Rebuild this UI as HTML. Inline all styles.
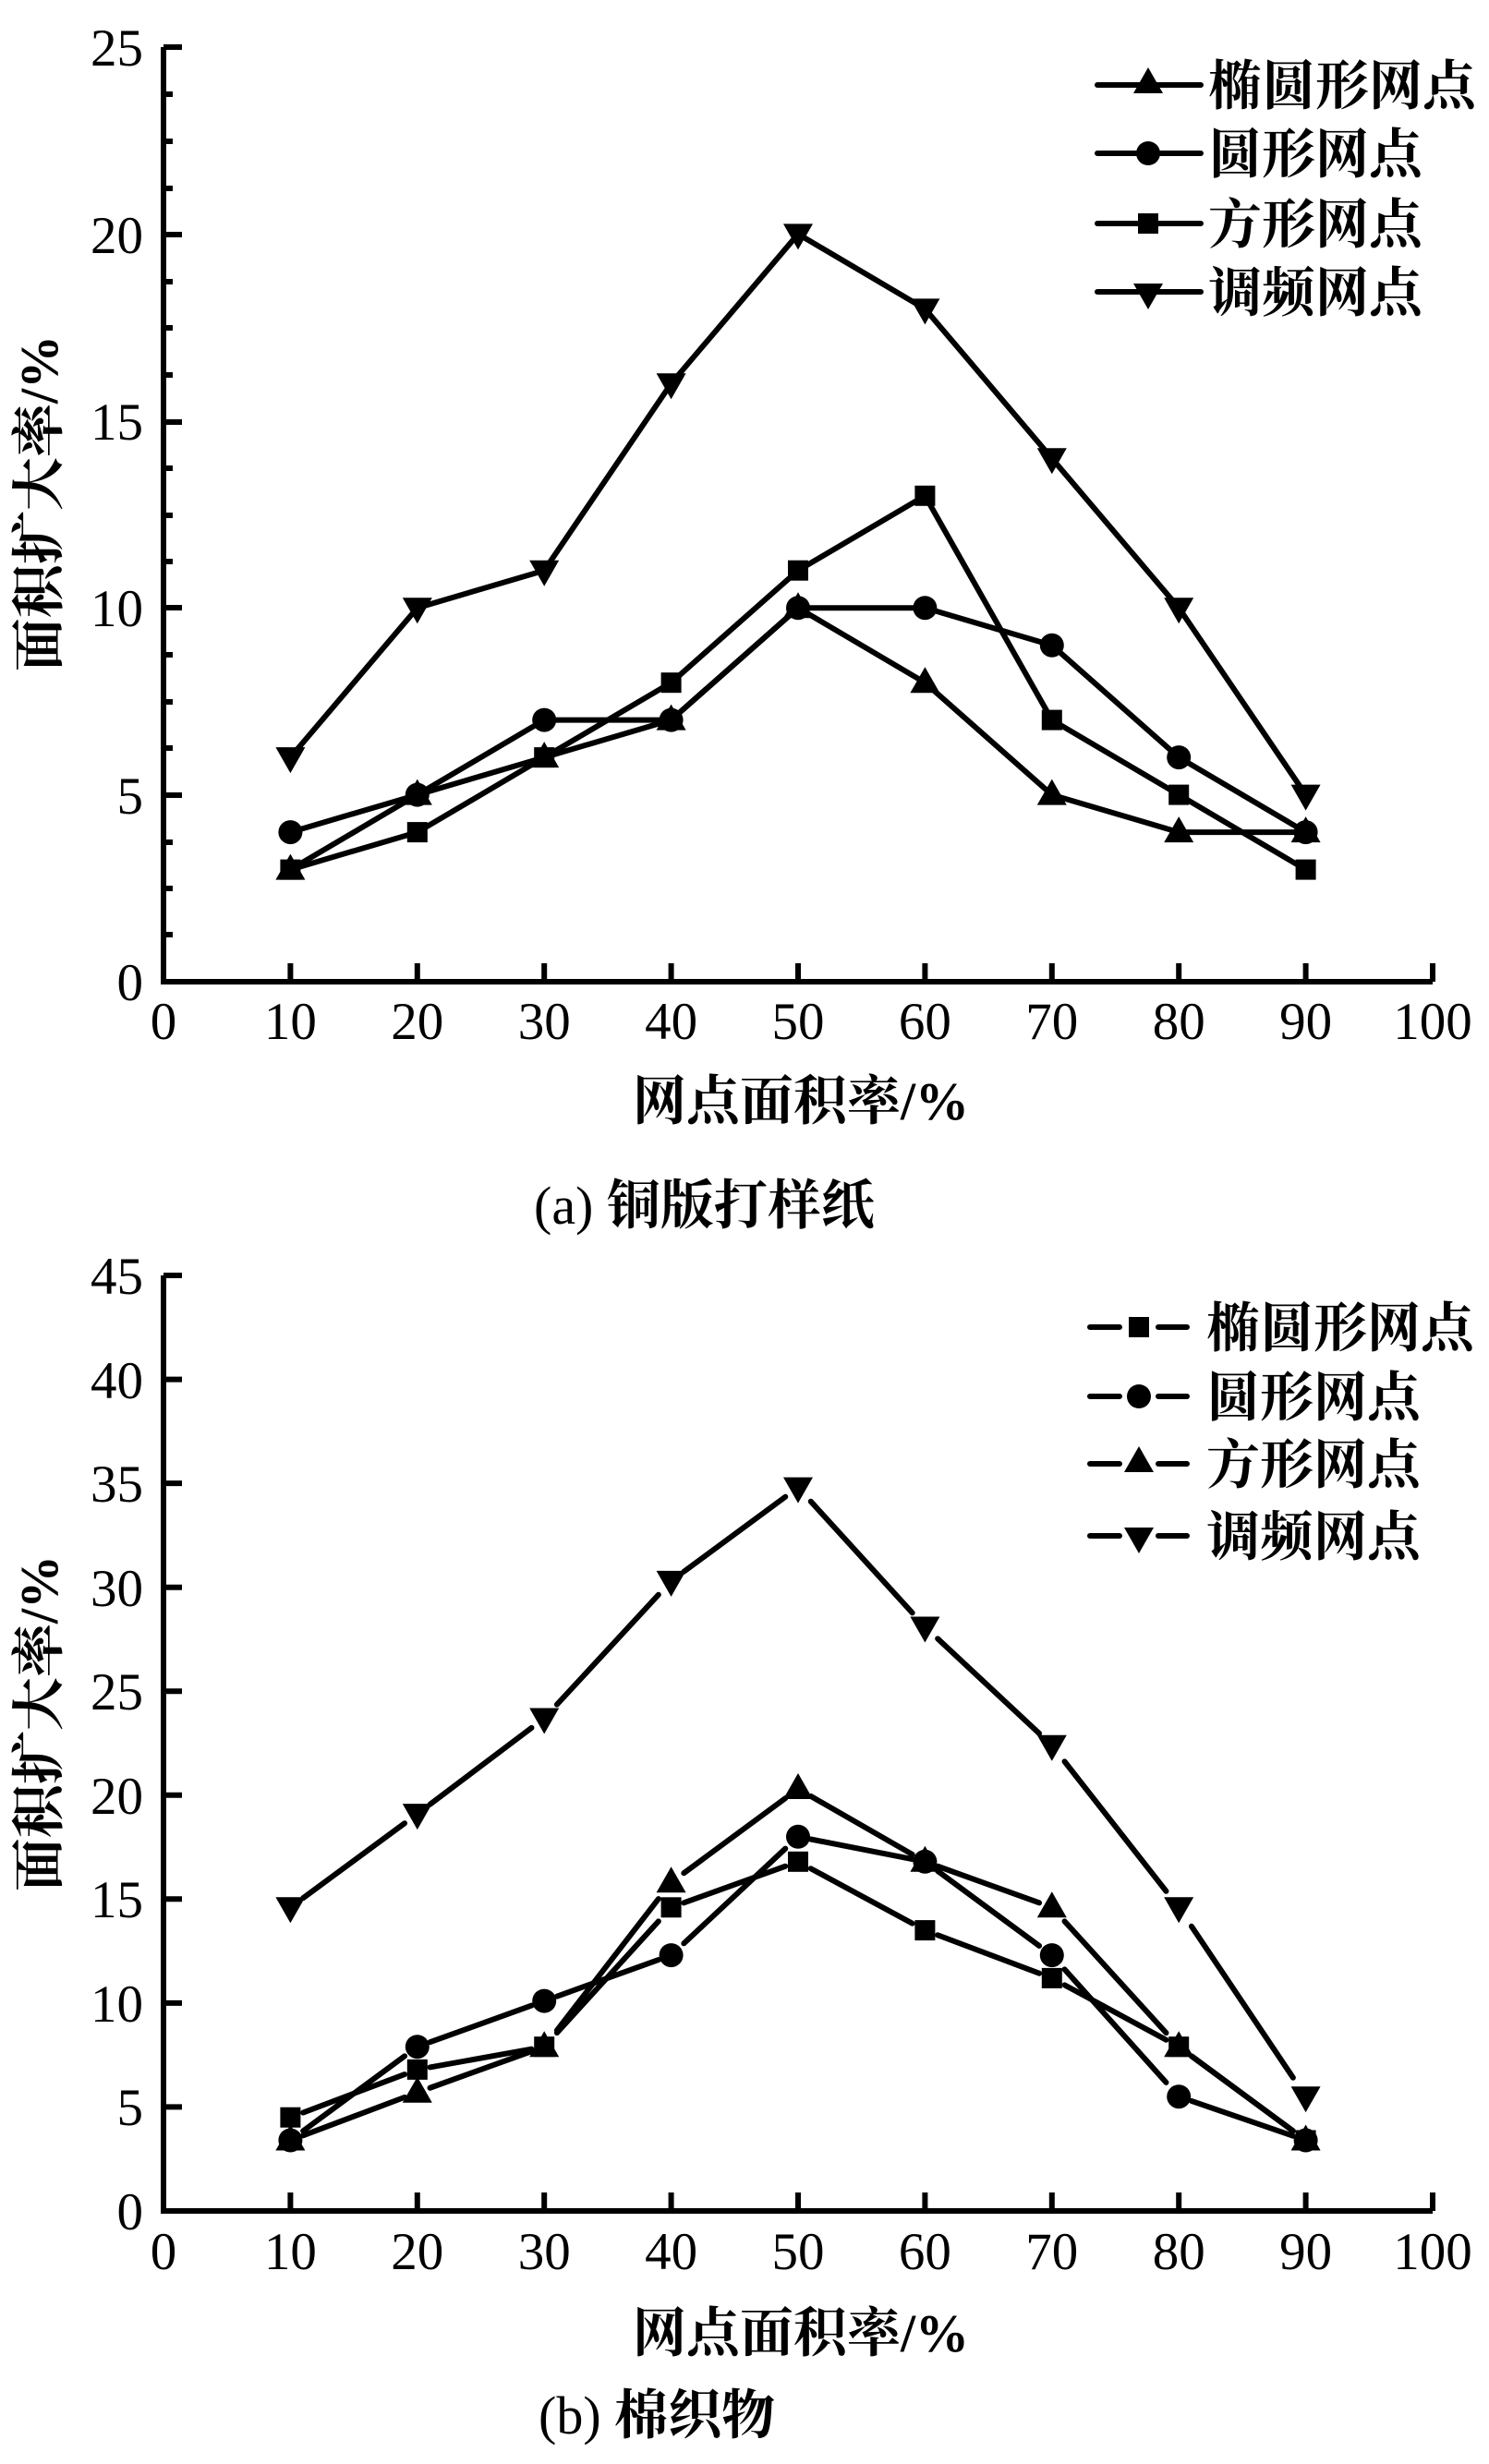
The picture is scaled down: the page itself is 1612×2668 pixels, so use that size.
<!DOCTYPE html>
<html><head><meta charset="utf-8"><style>
html,body{margin:0;padding:0;background:#fff;}
svg{display:block;}
.t{font-family:"Liberation Serif",serif;font-size:57px;fill:#000;}
.c{font-family:"Liberation Serif","Noto Serif CJK SC",serif;font-size:58px;font-weight:700;fill:#000;}
.ax{stroke:#000;stroke-width:6;fill:none;}
.ln{stroke:#000;stroke-width:6;fill:none;stroke-linejoin:round;}
.dl{stroke:#000;stroke-width:6;fill:none;stroke-linecap:round;}
</style></head><body>
<svg width="1612" height="2668" viewBox="0 0 1612 2668" xmlns="http://www.w3.org/2000/svg">
<defs>
<polygon id="tu" points="0,-17 16,11 -16,11" fill="#000"/>
<polygon id="td" points="0,17 16,-11 -16,-11" fill="#000"/>
<circle id="ci" r="13" fill="#000"/>
<rect id="sq" x="-11" y="-11" width="22" height="22" fill="#000"/>
</defs>

<!-- ===== Chart A ===== -->
<path class="ax" d="M177,51 V1063 H1551"/>
<path class="ax" d="M177,51 h20 M177,102 h10 M177,153 h10 M177,204 h10 M177,254 h20 M177,305 h10 M177,355 h10 M177,406 h10 M177,457 h20 M177,507 h10 M177,558 h10 M177,608 h10 M177,658 h20 M177,709 h10 M177,760 h10 M177,810 h10 M177,861 h20 M177,912 h10 M177,962 h10 M177,1012 h10"/>
<path class="ax" d="M314.4,1063 v-20 M451.8,1063 v-20 M589.2,1063 v-20 M726.6,1063 v-20 M864,1063 v-20 M1001.4,1063 v-20 M1138.8,1063 v-20 M1276.2,1063 v-20 M1413.6,1063 v-20 M1551,1063 v-20"/>
<g class="t" text-anchor="end">
<text x="155" y="1083">0</text><text x="155" y="881">5</text><text x="155" y="678">10</text><text x="155" y="476">15</text><text x="155" y="274">20</text><text x="155" y="71">25</text>
</g>
<g class="t" text-anchor="middle">
<text x="177" y="1125">0</text><text x="314.4" y="1125">10</text><text x="451.8" y="1125">20</text><text x="589.2" y="1125">30</text><text x="726.6" y="1125">40</text><text x="864" y="1125">50</text><text x="1001.4" y="1125">60</text><text x="1138.8" y="1125">70</text><text x="1276.2" y="1125">80</text><text x="1413.6" y="1125">90</text><text x="1551" y="1125">100</text>
</g>
<text class="c" x="867" y="1212" text-anchor="middle">网点面积率/%</text>
<text class="c" x="578" y="1325"><tspan font-weight="400">(a)</tspan> 铜版打样纸</text>
<text class="c" transform="translate(62,545) rotate(-90)" text-anchor="middle">面积扩大率/%</text>

<polyline class="ln" points="314.4,941.6 451.8,860.6 589.2,820.1 726.6,779.6 864,658.2 1001.4,739.2 1138.8,860.6 1276.2,901.1 1413.6,901.1"/>
<polyline class="ln" points="314.4,901.1 451.8,860.6 589.2,779.6 726.6,779.6 864,658.2 1001.4,658.2 1138.8,698.7 1276.2,820.1 1413.6,901.1"/>
<polyline class="ln" points="314.4,941.6 451.8,901.1 589.2,820.1 726.6,739.2 864,617.7 1001.4,536.8 1138.8,779.6 1276.2,860.6 1413.6,941.6"/>
<polyline class="ln" points="314.4,820.1 451.8,658.2 589.2,617.7 726.6,415.3 864,253.4 1001.4,334.4 1138.8,496.3 1276.2,658.2 1413.6,860.6"/>
<g>
<use href="#tu" x="314.4" y="941.6"/><use href="#tu" x="451.8" y="860.6"/><use href="#tu" x="589.2" y="820.1"/><use href="#tu" x="726.6" y="779.6"/><use href="#tu" x="864" y="658.2"/><use href="#tu" x="1001.4" y="739.2"/><use href="#tu" x="1138.8" y="860.6"/><use href="#tu" x="1276.2" y="901.1"/><use href="#tu" x="1413.6" y="901.1"/>
<use href="#ci" x="314.4" y="901.1"/><use href="#ci" x="451.8" y="860.6"/><use href="#ci" x="589.2" y="779.6"/><use href="#ci" x="726.6" y="779.6"/><use href="#ci" x="864" y="658.2"/><use href="#ci" x="1001.4" y="658.2"/><use href="#ci" x="1138.8" y="698.7"/><use href="#ci" x="1276.2" y="820.1"/><use href="#ci" x="1413.6" y="901.1"/>
<use href="#sq" x="314.4" y="941.6"/><use href="#sq" x="451.8" y="901.1"/><use href="#sq" x="589.2" y="820.1"/><use href="#sq" x="726.6" y="739.2"/><use href="#sq" x="864" y="617.7"/><use href="#sq" x="1001.4" y="536.8"/><use href="#sq" x="1138.8" y="779.6"/><use href="#sq" x="1276.2" y="860.6"/><use href="#sq" x="1413.6" y="941.6"/>
<use href="#td" x="314.4" y="820.1"/><use href="#td" x="451.8" y="658.2"/><use href="#td" x="589.2" y="617.7"/><use href="#td" x="726.6" y="415.3"/><use href="#td" x="864" y="253.4"/><use href="#td" x="1001.4" y="334.4"/><use href="#td" x="1138.8" y="496.3"/><use href="#td" x="1276.2" y="658.2"/><use href="#td" x="1413.6" y="860.6"/>
</g>
<!-- legend A -->
<path class="dl" d="M1188,92 H1300 M1188,166 H1300 M1188,242 H1300 M1188,316 H1300"/>
<use href="#tu" x="1243" y="90"/><use href="#ci" x="1243" y="166"/><use href="#sq" x="1243" y="242"/><use href="#td" x="1243" y="318"/>
<g class="c">
<text x="1308" y="113">椭圆形网点</text><text x="1308" y="187">圆形网点</text><text x="1308" y="263">方形网点</text><text x="1308" y="337">调频网点</text>
</g>

<!-- ===== Chart B ===== -->
<path class="ax" d="M177,1381 V2394 H1551"/>
<path class="ax" d="M177,1381 h20 M177,1493.6 h20 M177,1606.1 h20 M177,1718.7 h20 M177,1831.2 h20 M177,1943.8 h20 M177,2056.3 h20 M177,2168.9 h20 M177,2281.4 h20"/>
<path class="ax" d="M314.4,2394 v-20 M451.8,2394 v-20 M589.2,2394 v-20 M726.6,2394 v-20 M864,2394 v-20 M1001.4,2394 v-20 M1138.8,2394 v-20 M1276.2,2394 v-20 M1413.6,2394 v-20 M1551,2394 v-20"/>
<g class="t" text-anchor="end">
<text x="155" y="2414">0</text><text x="155" y="2301">5</text><text x="155" y="2189">10</text><text x="155" y="2076">15</text><text x="155" y="1964">20</text><text x="155" y="1851">25</text><text x="155" y="1739">30</text><text x="155" y="1626">35</text><text x="155" y="1514">40</text><text x="155" y="1401">45</text>
</g>
<g class="t" text-anchor="middle">
<text x="177" y="2457">0</text><text x="314.4" y="2457">10</text><text x="451.8" y="2457">20</text><text x="589.2" y="2457">30</text><text x="726.6" y="2457">40</text><text x="864" y="2457">50</text><text x="1001.4" y="2457">60</text><text x="1138.8" y="2457">70</text><text x="1276.2" y="2457">80</text><text x="1413.6" y="2457">90</text><text x="1551" y="2457">100</text>
</g>
<text class="c" x="867" y="2546" text-anchor="middle">网点面积率/%</text>
<text class="c" x="583" y="2635"><tspan font-weight="400">(b)</tspan> 棉织物</text>
<text class="c" transform="translate(62,1866) rotate(-90)" text-anchor="middle">面积扩大率/%</text>

<g class="dl" stroke-dasharray="0 10 80 100">
<!-- square -->
<polyline pathLength="100" points="314.4,2292.7 451.8,2240.9"/><polyline pathLength="100" points="451.8,2240.9 589.2,2216.2"/><polyline pathLength="100" points="589.2,2216.2 726.6,2065.3"/><polyline pathLength="100" points="726.6,2065.3 864,2015.8"/><polyline pathLength="100" points="864,2015.8 1001.4,2090.1"/><polyline pathLength="100" points="1001.4,2090.1 1138.8,2141.9"/><polyline pathLength="100" points="1138.8,2141.9 1276.2,2216.2"/><polyline pathLength="100" points="1276.2,2216.2 1413.6,2317.5"/>
<!-- circle -->
<polyline pathLength="100" points="314.4,2317.5 451.8,2216.2"/><polyline pathLength="100" points="451.8,2216.2 589.2,2166.6"/><polyline pathLength="100" points="589.2,2166.6 726.6,2117.1"/><polyline pathLength="100" points="726.6,2117.1 864,1988.8"/><polyline pathLength="100" points="864,1988.8 1001.4,2015.8"/><polyline pathLength="100" points="1001.4,2015.8 1138.8,2117.1"/><polyline pathLength="100" points="1138.8,2117.1 1276.2,2270.2"/><polyline pathLength="100" points="1276.2,2270.2 1413.6,2317.5"/>
<!-- triangle -->
<polyline pathLength="100" points="314.4,2317.5 451.8,2265.7"/><polyline pathLength="100" points="451.8,2265.7 589.2,2216.2"/><polyline pathLength="100" points="589.2,2216.2 726.6,2038.3"/><polyline pathLength="100" points="726.6,2038.3 864,1937"/><polyline pathLength="100" points="864,1937 1001.4,2015.8"/><polyline pathLength="100" points="1001.4,2015.8 1138.8,2065.3"/><polyline pathLength="100" points="1138.8,2065.3 1276.2,2216.2"/><polyline pathLength="100" points="1276.2,2216.2 1413.6,2317.5"/>
<!-- down -->
<polyline pathLength="100" points="314.4,2065.3 451.8,1964.1"/><polyline pathLength="100" points="451.8,1964.1 589.2,1860.5"/><polyline pathLength="100" points="589.2,1860.5 726.6,1711.9"/><polyline pathLength="100" points="726.6,1711.9 864,1610.6"/><polyline pathLength="100" points="864,1610.6 1001.4,1761.5"/><polyline pathLength="100" points="1001.4,1761.5 1138.8,1889.8"/><polyline pathLength="100" points="1138.8,1889.8 1276.2,2065.3"/><polyline pathLength="100" points="1276.2,2065.3 1413.6,2270.2"/>
</g>
<g>
<use href="#sq" x="314.4" y="2292.7"/><use href="#sq" x="451.8" y="2240.9"/><use href="#sq" x="589.2" y="2216.2"/><use href="#sq" x="726.6" y="2065.3"/><use href="#sq" x="864" y="2015.8"/><use href="#sq" x="1001.4" y="2090.1"/><use href="#sq" x="1138.8" y="2141.9"/><use href="#sq" x="1276.2" y="2216.2"/><use href="#sq" x="1413.6" y="2317.5"/>
<use href="#ci" x="314.4" y="2317.5"/><use href="#ci" x="451.8" y="2216.2"/><use href="#ci" x="589.2" y="2166.6"/><use href="#ci" x="726.6" y="2117.1"/><use href="#ci" x="864" y="1988.8"/><use href="#ci" x="1001.4" y="2015.8"/><use href="#ci" x="1138.8" y="2117.1"/><use href="#ci" x="1276.2" y="2270.2"/><use href="#ci" x="1413.6" y="2317.5"/>
<use href="#tu" x="314.4" y="2317.5"/><use href="#tu" x="451.8" y="2265.7"/><use href="#tu" x="589.2" y="2216.2"/><use href="#tu" x="726.6" y="2038.3"/><use href="#tu" x="864" y="1937"/><use href="#tu" x="1001.4" y="2015.8"/><use href="#tu" x="1138.8" y="2065.3"/><use href="#tu" x="1276.2" y="2216.2"/><use href="#tu" x="1413.6" y="2317.5"/>
<use href="#td" x="314.4" y="2065.3"/><use href="#td" x="451.8" y="1964.1"/><use href="#td" x="589.2" y="1860.5"/><use href="#td" x="726.6" y="1711.9"/><use href="#td" x="864" y="1610.6"/><use href="#td" x="1001.4" y="1761.5"/><use href="#td" x="1138.8" y="1889.8"/><use href="#td" x="1276.2" y="2065.3"/><use href="#td" x="1413.6" y="2270.2"/>
</g>
<!-- legend B -->
<path class="dl" d="M1180,1437 H1212 M1254,1437 H1285 M1180,1512 H1212 M1254,1512 H1285 M1180,1585 H1212 M1254,1585 H1285 M1180,1663 H1212 M1254,1663 H1285"/>
<use href="#sq" x="1233" y="1437"/><use href="#ci" x="1233" y="1512"/><use href="#tu" x="1233" y="1583"/><use href="#td" x="1233" y="1665"/>
<g class="c">
<text x="1306" y="1458">椭圆形网点</text><text x="1306" y="1533">圆形网点</text><text x="1306" y="1606">方形网点</text><text x="1306" y="1684">调频网点</text>
</g>
</svg>
</body></html>
